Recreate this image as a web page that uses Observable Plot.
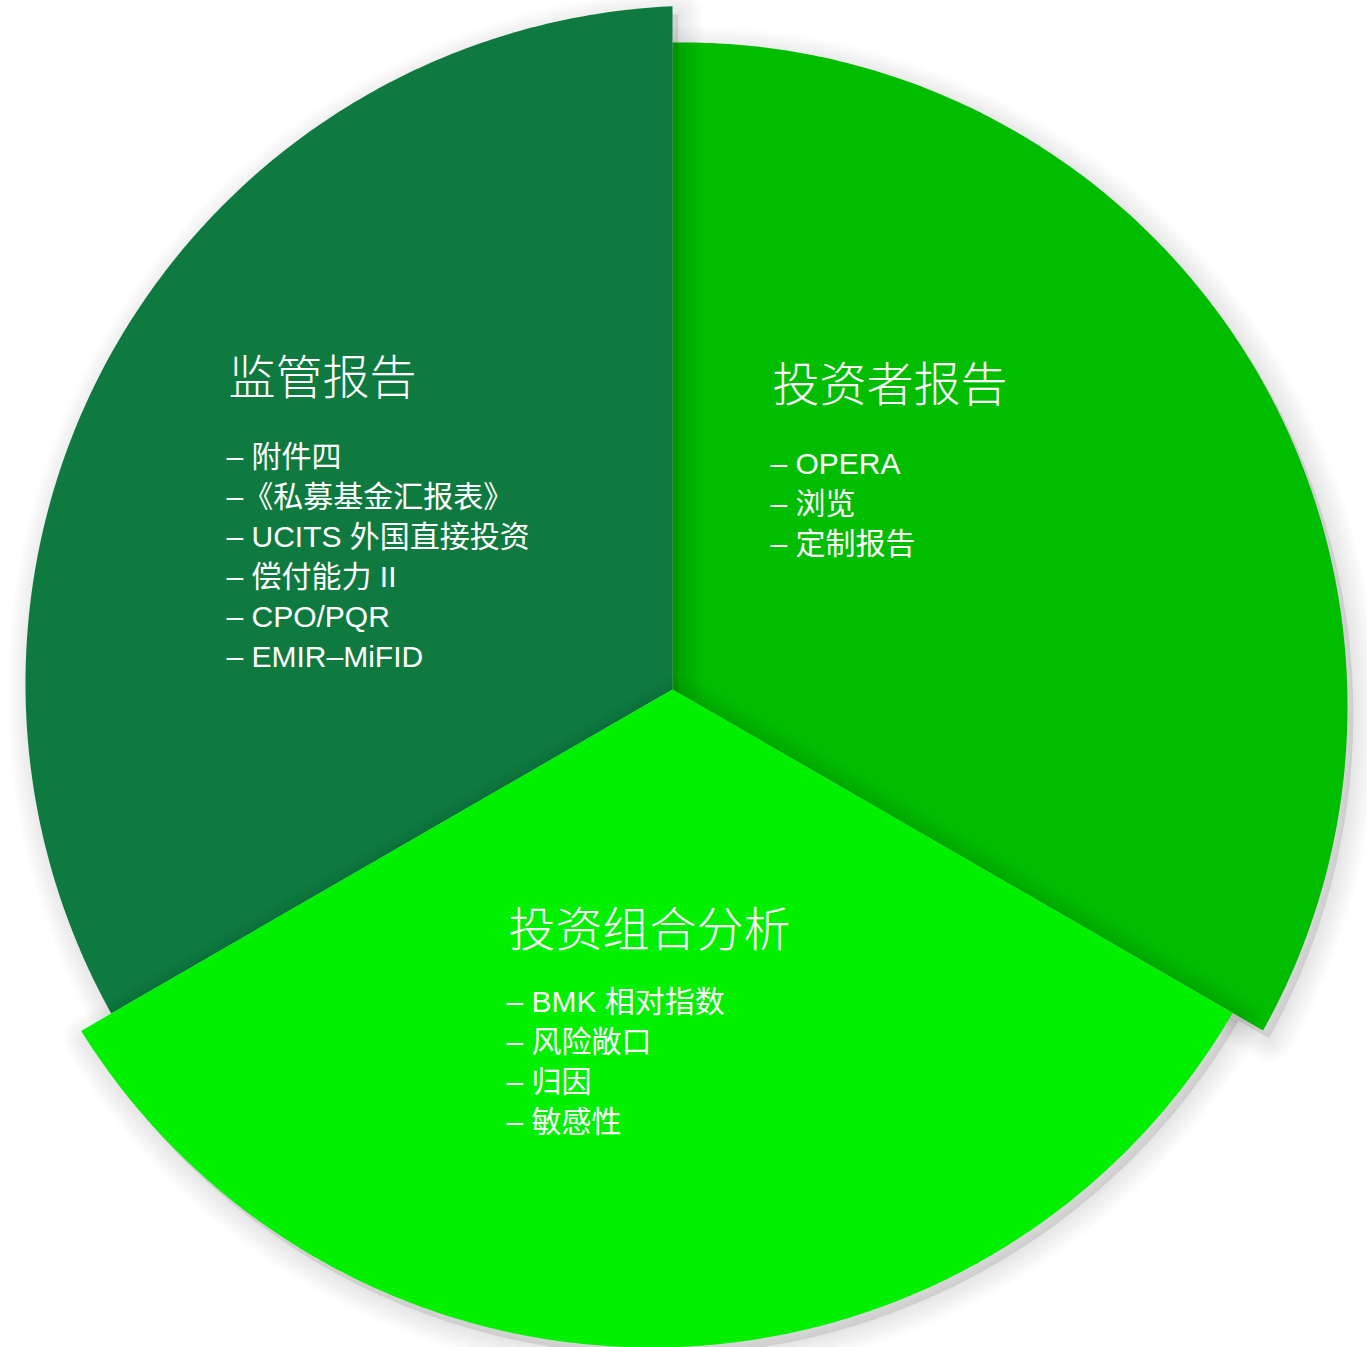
<!DOCTYPE html>
<html><head><meta charset="utf-8">
<script src="https://cdn.jsdelivr.net/npm/d3@7"></script>
<script src="https://cdn.jsdelivr.net/npm/@observablehq/plot@0.6"></script>
<style>html,body{margin:0;padding:0;background:#fff;overflow:hidden}</style>
</head><body><div id="chart"></div>
<script>
// ---- data ----
const categories = ["投资者报告", "投资组合分析", "监管报告"];
const values = [1, 1, 1];
const investorItems = ["– OPERA", "– 浏览", "– 定制报告"];
const portfolioItems = ["– BMK 相对指数", "– 风险敞口", "– 归因", "– 敏感性"];
const regulatoryItems = ["– 附件四", "–《私募基金汇报表》", "– UCITS 外国直接投资", "– 偿付能力 II", "– CPO/PQR", "– EMIR–MiFID"];
const itemsByCat = {"投资者报告": investorItems, "投资组合分析": portfolioItems, "监管报告": regulatoryItems};

// ---- layout / style ----
const W = 1367, H = 1347;
const apex = [672, 689];
const colors = ["#00bd00", "#00f000", "#0f7a3f"];
const shape = {
  "投资者报告": {R: 664, ox: 11, oy: 17},
  "投资组合分析": {R: 672, ox: -21, oy: -14},
  "监管报告": {R: 678, ox: 31, oy: -6}
};
const labelPos = {
  "投资者报告": {x: 772, titleY: 385, itemY: 464},
  "投资组合分析": {x: 508, titleY: 930, itemY: 1002},
  "监管报告": {x: 228, titleY: 378, itemY: 457}
};
const lineStep = 40;
const drawOrder = ["投资者报告", "监管报告", "投资组合分析"];
const shadowLayers = [6, 12, 18, 24, 30, 36, 42, 48];

// ---- geometry from pie ----
const arcs = d3.pie().sort(null).value(d => d)(values);
const slicePts = {};
arcs.forEach((a, i) => {
  const cat = categories[i];
  const s = shape[cat];
  const pts = [{cat, x: apex[0], y: apex[1]}];
  const n = 240;
  for (let k = 0; k <= n; k++) {
    const th = a.startAngle + (a.endAngle - a.startAngle) * k / n;
    const ux = Math.sin(th), uy = -Math.cos(th);
    const uo = ux * s.ox + uy * s.oy;
    const t = uo + Math.sqrt(uo * uo - (s.ox * s.ox + s.oy * s.oy) + s.R * s.R);
    pts.push({cat, x: apex[0] + t * ux, y: apex[1] + t * uy});
  }
  pts.push({cat, x: apex[0], y: apex[1]});
  slicePts[cat] = pts;
});

const titles = categories.map(c => ({cat: c, x: labelPos[c].x, y: labelPos[c].titleY, text: c}));
const itemRows = categories.flatMap(c => itemsByCat[c].map((t, j) => ({cat: c, x: labelPos[c].x, y: labelPos[c].itemY + j * lineStep, text: t})));

const font = "'Liberation Sans', 'Noto Sans CJK SC', sans-serif";

const sliceMarks = drawOrder.flatMap(c => [
  ...shadowLayers.map(w => Plot.line(slicePts[c], {
    x: "x", y: "y", dx: 6, dy: 8, curve: "linear",
    fill: "#000", fillOpacity: 0.013, stroke: "#000", strokeOpacity: 0.013,
    strokeWidth: w, strokeLinejoin: "round"
  })),
  Plot.line(slicePts[c], {x: "x", y: "y", fill: "cat", stroke: "none", curve: "linear"})
]);

const chart = Plot.plot({
  width: W, height: H, margin: 0,
  x: {domain: [0, W], range: [0, W], axis: null},
  y: {domain: [0, H], range: [0, H], axis: null},
  color: {domain: categories, range: colors},
  marks: [
    ...sliceMarks,
    Plot.text(titles, {x: "x", y: "y", text: "text", fill: "white", fontSize: 47, fontWeight: 300, textAnchor: "start", fontFamily: "'Noto Sans CJK SC', sans-serif"}),
    Plot.text(itemRows, {x: "x", y: "y", text: "text", fill: "white", fontSize: 30, textAnchor: "start", fontFamily: font, dx: -2})
  ]
});

d3.select(chart).style("overflow", "hidden");
document.getElementById("chart").appendChild(chart);
</script>
</body></html>
